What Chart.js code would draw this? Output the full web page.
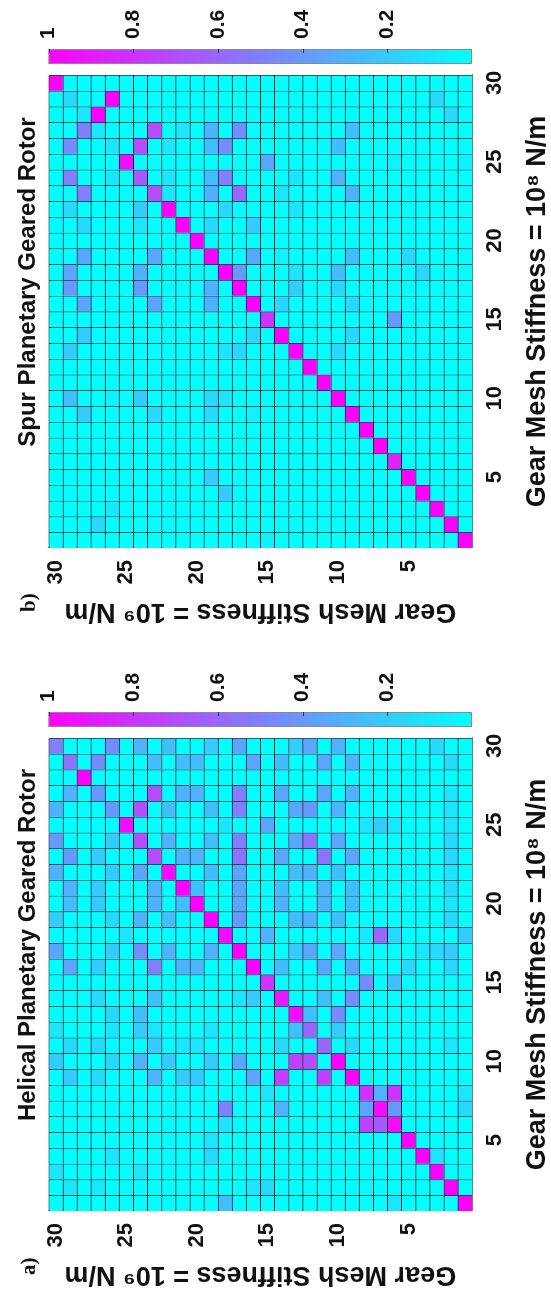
<!DOCTYPE html>
<html>
<head>
<meta charset="utf-8">
<script src="https://cdn.jsdelivr.net/npm/chart.js@4.4.1/dist/chart.umd.min.js"></script>
<style>
html, body { margin: 0; padding: 0; background: #fff; }
body { width: 551px; height: 1290px; overflow: hidden; position: relative; }
/* the figure is laid out landscape and turned a quarter turn counter-clockwise */
#figure { position: absolute; left: 0; top: 0; width: 1290px; height: 551px;
  transform-origin: 0 0; transform: translate(0, 1290px) rotate(-90deg); }
#figure canvas { position: absolute; top: 0; }
#panel_a { left: 0; }
#panel_b { left: 663px; }
</style>
</head>
<body>
<div id="figure">
  <canvas id="panel_a" width="690" height="551"></canvas>
  <canvas id="panel_b" width="690" height="551"></canvas>
</div>
<script>
const modes = [1, 2, 3, 4, 5, 6, 7, 8, 9, 10, 11, 12, 13, 14, 15, 16, 17, 18, 19, 20, 21, 22, 23, 24, 25, 26, 27, 28, 29, 30]
const xTicks = [5, 10, 15, 20, 25, 30]
const yTicks = [5, 10, 15, 20, 25, 30]
const cbTicks = [0.2, 0.4, 0.6, 0.8, 1]

// MAC values. Row k is x = 30 - k (x = 30 first), entry m is y = 30 - m (y = 30 first)
const helical = [
  [.5,0,0,0,.45,0,.3,0,.25,0, 0,.2,0,.35,0,0,0,.2,.35,0, .3,0,0,0,0,0,0,.15,0,0],
  [0,.55,0,.45,0,0,0,.25,0,.25, .25,0,0,0,.35,0,.25,0,0,.35, 0,.3,0,0,0,0,0,0,.15,0],
  [0,0,1,0,0,0,0,0,0,0, 0,0,0,0,0,0,0,0,0,0, 0,0,0,0,0,0,0,0,0,0],
  [0,.3,0,.4,0,0,0,.7,0,.3, .3,0,0,.5,0,0,.35,0,0,.35, 0,.3,0,0,0,0,0,0,.1,0],
  [.3,0,0,0,.4,0,.7,0,.25,0, 0,.25,0,.5,0,0,0,.35,.4,0, .3,0,0,0,0,0,0,0,.1,0],
  [0,0,0,0,0,.95,0,0,0,0, 0,0,.1,0,0,.35,0,0,0,0, 0,0,.1,.2,.1,0,0,0,.1,0],
  [.4,0,0,0,.2,0,.7,0,.3,0, 0,.25,0,.5,0,0,0,.35,.55,0, .35,0,0,0,0,0,0,0,.15,0],
  [0,.4,0,.2,0,0,0,.7,0,.3, .3,0,0,.55,0,0,.35,0,0,.55, 0,.35,0,0,0,0,0,0,.15,0],
  [.3,0,0,0,.2,0,.35,0,.95,0, 0,.25,0,.35,0,0,0,.25,.3,0, .25,0,0,0,0,0,0,0,.1,0],
  [0,.3,0,.2,0,0,0,.3,0,1, .25,0,0,.35,0,0,.25,0,0,.3, 0,.25,0,0,0,0,0,0,.15,0],
  [0,.25,0,.2,0,0,0,.3,0,.25, 1,0,0,.35,0,0,.3,0,0,.3, 0,.25,0,0,0,0,0,0,.1,0],
  [.2,0,0,0,.15,0,.3,0,.25,0, 0,1,0,.4,0,0,0,.25,.3,0, .25,0,0,0,0,0,0,0,.15,0],
  [0,0,0,0,0,.1,0,0,0,0, 0,0,.95,0,0,.3,0,0,0,0, 0,0,.1,.6,.15,0,0,0,0,.2],
  [.35,0,0,0,.2,0,.45,0,.3,0, 0,.3,0,1,0,0,0,.2,.35,0, .35,0,0,0,0,0,.1,.15,.2,0],
  [0,.35,0,.2,0,0,0,.5,0,.3, .3,0,0,0,1,0,.25,0,0,.35, 0,.35,0,0,0,.15,0,0,.15,0],
  [0,0,0,0,0,0,0,0,0,0, 0,0,0,0,0,.8,0,0,0,0, 0,0,.45,0,.25,0,0,0,0,0],
  [0,0,0,.15,0,0,0,.25,0,0, 0,0,0,.1,.2,0,.9,0,0,.25, 0,.45,0,0,0,0,0,0,0,0],
  [0,0,0,0,.15,0,.25,0,0,0, 0,0,0,0,0,0,0,.95,.25,0, .45,0,0,0,0,0,0,0,0,0],
  [.1,0,0,0,.1,0,.2,.1,0,0, 0,.1,0,0,0,0,0,.25,.6,0, .2,0,0,0,0,0,0,0,0,0],
  [0,.15,0,.15,0,0,0,.2,0,.1, .1,0,0,0,0,0,.15,0,0,.6, 0,.15,0,0,0,0,0,0,.1,0],
  [.2,0,0,0,.15,0,.3,0,.2,0, 0,.2,0,.35,0,0,0,.75,.7,0, 1,0,0,0,0,0,0,0,0,0],
  [0,.2,0,.15,0,0,0,.3,0,.2, .2,0,0,0,.35,0,.75,0,0,.75, 0,1,0,0,0,0,0,0,0,0],
  [0,0,0,0,0,0,0,0,0,0, 0,0,0,0,0,.1,0,0,0,0, 0,0,.8,.3,.8,0,0,0,0,.1],
  [0,0,0,0,0,0,0,0,0,0, 0,0,.5,0,0,0,.3,0,0,0, 0,0,.35,.95,.4,0,0,0,0,.15],
  [0,0,0,0,0,0,0,0,0,0, 0,0,.1,0,0,0,0,0,0,0, 0,0,.75,.65,.95,0,0,0,0,0],
  [0,0,0,0,0,0,0,0,0,0, 0,.1,0,0,0,0,0,0,0,0, 0,0,0,0,0,1,0,0,0,0],
  [0,0,0,0,.1,0,0,0,0,0, 0,.15,0,0,0,0,0,0,0,0, 0,0,0,0,0,0,1,.1,0,0],
  [.1,0,0,0,0,0,.1,0,0,0, 0,0,0,0,0,0,0,0,0,0, 0,0,0,0,0,0,0,1,0,0],
  [0,.1,0,.1,0,0,0,0,0,0, 0,0,0,0,.1,.15,0,0,0,0, 0,0,0,0,0,0,0,0,1,0],
  [0,0,0,0,0,0,0,0,0,0, 0,0,.25,0,0,0,0,0,0,0, 0,0,0,0,.1,0,0,0,0,1]
]

const spur = [
  [1,0,0,0,0,0,0,0,0,0, 0,0,0,0,0,0,0,0,0,0, 0,0,0,0,0,0,0,0,0,0],
  [0,.15,0,0,1,0,0,0,0,0, 0,0,0,0,0,0,0,0,0,0, 0,0,0,0,0,0,0,.15,0,0],
  [0,0,.1,1,0,0,0,0,0,0, 0,0,0,0,0,0,0,0,0,0, 0,0,0,0,0,0,0,0,.15,0],
  [0,0,.5,.1,0,0,0,.7,0,.1, 0,.3,0,.45,0,0,0,0,0,0, 0,.25,0,0,0,0,0,0,0,0],
  [0,.45,0,0,.1,0,.7,0,.1,0, 0,.25,.45,0,0,0,0,0,0,0, .25,0,0,0,0,0,0,0,0,0],
  [0,0,0,0,0,.95,0,0,0,0, 0,0,0,0,0,.35,0,0,0,0, 0,0,0,0,.05,0,0,0,0,.05],
  [0,.5,0,0,.1,0,.65,0,.1,0, 0,.25,.5,0,0,0,0,.1,0,0, .3,0,0,0,0,0,0,0,0,0],
  [0,0,.5,0,0,0,0,.7,.1,0, 0,.3,0,.6,0,0,.1,0,0,0, 0,.3,0,0,0,0,0,0,0,0],
  [0,.15,0,0,0,0,.2,0,1,0, 0,0,.15,0,0,0,0,.1,0,0, 0,0,0,0,0,0,0,0,0,0],
  [0,0,.15,0,0,0,.1,0,0,1, 0,.15,0,0,.2,0,0,0,0,0, 0,0,0,0,0,0,0,0,0,0],
  [0,0,0,0,0,0,0,0,0,0, 1,0,0,0,0,0,0,0,0,0, 0,0,0,0,0,0,0,0,0,0],
  [0,0,.35,0,0,0,0,.35,0,0, 0,1,0,0,.35,0,.05,0,0,0, 0,.25,0,0,0,.15,0,0,0,0],
  [0,.35,0,0,0,0,.3,0,0,0, 0,0,1,.4,0,0,0,.1,0,0, .25,0,0,0,0,0,.15,0,0,0],
  [0,.4,0,0,0,0,.4,0,0,0, 0,.3,0,1,0,0,0,.2,0,0, .15,0,0,0,0,0,0,0,0,0],
  [0,0,.35,0,0,0,0,.35,0,0, 0,.3,0,0,1,0,.15,0,0,0, 0,.15,0,0,0,0,0,0,0,0],
  [0,0,0,0,0,0,0,0,0,0, 0,0,0,0,0,.8,0,0,0,0, 0,0,0,0,.4,0,0,0,0,0],
  [0,0,.2,0,0,0,0,0,0,0, 0,0,0,0,.15,0,1,0,0,0, 0,.15,0,0,0,0,0,0,0,0],
  [0,.2,0,0,0,0,0,0,0,0, 0,0,.1,.15,0,0,0,1,0,0, .15,0,0,0,0,0,0,0,0,0],
  [0,0,0,0,0,0,0,0,0,0, 0,0,0,0,0,0,0,0,1,0, 0,0,0,0,0,0,0,0,0,0],
  [0,0,0,0,0,0,0,0,0,0, 0,0,0,0,0,0,0,0,0,1, 0,0,0,0,0,0,0,0,0,0],
  [0,.25,0,0,.05,0,.2,0,0,0, 0,.15,.1,0,0,0,0,0,0,0, 1,0,0,0,0,0,0,0,0,0],
  [0,0,.2,0,0,0,0,.15,0,0, 0,.15,0,0,.05,0,0,0,0,0, 0,1,0,0,0,0,0,0,0,0],
  [0,0,0,0,0,0,0,0,0,0, 0,0,0,0,0,0,0,0,0,0, 0,0,1,0,0,0,0,0,0,0],
  [0,0,0,0,0,0,0,0,0,0, 0,0,0,0,0,0,0,0,0,0, 0,0,0,1,0,0,0,0,0,0],
  [0,0,0,0,0,0,0,0,0,0, 0,0,0,0,0,0,0,0,0,0, 0,0,0,0,.85,0,0,0,0,0],
  [0,0,0,0,0,0,0,0,0,0, 0,.2,0,0,0,0,0,0,0,0, 0,0,0,0,0,1,0,0,0,0],
  [0,0,0,0,0,0,0,0,0,0, 0,0,.2,0,0,0,0,0,0,0, 0,0,0,0,0,0,1,0,0,0],
  [0,0,0,0,.1,0,0,0,0,0, 0,0,0,0,0,0,0,0,0,0, 0,0,0,0,0,0,0,1,0,0],
  [0,0,0,.15,0,0,0,0,0,0, 0,0,0,0,0,0,0,0,0,0, 0,0,0,0,0,0,0,0,1,0],
  [0,0,0,0,0,0,0,0,0,0, 0,0,0,0,0,.05,0,0,0,0, 0,0,0,0,0,0,0,0,0,1]
]

const sans = '"Liberation Sans", Arial, Helvetica, sans-serif'
const ink = '#111'

// MATLAB "cool" colormap: cyan at 0, magenta at 1
function coolColor(v) {
  return `rgb(${Math.round(255 * v)}, ${Math.round(255 * (1 - v))}, 255)`
}

function cellDatasets(matrix) {
  const n = modes.length
  return modes.map(y => ({
    data: modes.map(() => [y - 0.5, y + 0.5]),
    backgroundColor: modes.map(x => coolColor(matrix[n - x][n - y])),
    borderColor: '#1d2626',
    borderWidth: {top: 1, right: 1, bottom: 0, left: 0},
    borderSkipped: false,
    grouped: false,
    barPercentage: 1,
    categoryPercentage: 1
  }))
}

// colorbar drawn in the band of the right-hand "cb" scale, plus the panel tag
const colorbar = {
  id: 'colorbar',
  afterDraw(chart, args, opts) {
    const cb = chart.scales.cb
    const ctx = chart.ctx
    const top = cb.getPixelForValue(1)
    const bottom = cb.getPixelForValue(0)
    const left = cb.left + 11
    const w = 15
    const grad = ctx.createLinearGradient(0, bottom, 0, top)
    grad.addColorStop(0, coolColor(0))
    grad.addColorStop(1, coolColor(1))
    ctx.save()
    ctx.fillStyle = grad
    ctx.fillRect(left, top, w, bottom - top)
    ctx.strokeStyle = '#8a8a8a'
    ctx.lineWidth = 1
    ctx.strokeRect(left + 0.5, top + 0.5, w - 1, bottom - top - 1)
    ctx.strokeStyle = '#333'
    ctx.beginPath()
    cb.ticks.forEach(t => {
      const y = Math.round(cb.getPixelForValue(t.value)) + 0.5
      ctx.moveTo(left + w - 4, y)
      ctx.lineTo(left + w, y)
    })
    ctx.stroke()
    ctx.fillStyle = ink
    ctx.font = 'bold 21px "Liberation Serif", "Times New Roman", serif'
    ctx.textBaseline = 'middle'
    ctx.fillText(opts.tag, 15, 30)
    ctx.restore()
  }
}

function drawPanel(id, matrix, title, tag, xLabel, yLabel) {
  new Chart(document.getElementById(id), {
    type: 'bar',
    data: {labels: modes, datasets: cellDatasets(matrix)},
    options: {
      responsive: false,
      animation: false,
      events: [],
      layout: {padding: 0},
      plugins: {
        legend: {display: false},
        tooltip: {enabled: false},
        title: {
          display: true,
          text: title,
          color: ink,
          font: {family: sans, size: 24, weight: 'bold'},
          padding: {top: 10, bottom: 6.2}
        },
        colorbar: {tag: tag}
      },
      scales: {
        x: {
          type: 'category',
          offset: true,
          grid: {display: false, drawTicks: false},
          border: {display: true, color: '#7a7a7a'},
          ticks: {
            autoSkip: false, maxRotation: 0, padding: 10, color: ink,
            font: {family: sans, size: 22, weight: 'bold'},
            callback: (v, i) => xTicks.includes(modes[i]) ? String(modes[i]) : ''
          },
          title: {
            display: true, text: xLabel, color: ink, padding: 0,
            font: {family: sans, size: 27, weight: 'bold', lineHeight: 1}
          },
          afterFit: s => { s.height = 79 }
        },
        y: {
          type: 'linear',
          min: 0.5,
          max: 30.5,
          grid: {display: false, drawTicks: false},
          border: {display: true, color: '#7a7a7a'},
          afterBuildTicks: s => { s.ticks = yTicks.map(v => ({value: v})) },
          ticks: {padding: 12, color: ink, font: {family: sans, size: 22, weight: 'bold'}},
          title: {
            display: true, text: yLabel, color: ink, padding: {top: 2, bottom: 0},
            font: {family: sans, size: 27, weight: 'bold', lineHeight: 1}
          },
          afterFit: s => { s.width = 79 }
        },
        cb: {
          type: 'linear',
          position: 'right',
          min: 0,
          max: 1,
          grid: {display: false, drawTicks: false},
          border: {display: false},
          afterBuildTicks: s => { s.ticks = cbTicks.map(v => ({value: v})) },
          ticks: {
            padding: 36, color: ink,
            font: {family: sans, size: 21, weight: 'bold'},
            callback: v => String(v)
          },
          afterFit: s => { s.width = 138 }
        }
      }
    },
    plugins: [colorbar]
  })
}

drawPanel('panel_a', helical, 'Helical Planetary Geared Rotor', 'a)',
  'Gear Mesh Stiffness = 10\u2078 N/m', 'Gear Mesh Stiffness = 10\u2079 N/m')
drawPanel('panel_b', spur, 'Spur Planetary Geared Rotor', 'b)',
  'Gear Mesh Stiffness = 10\u2078 N/m', 'Gear Mesh Stiffness = 10\u2079 N/m')
</script>
</body>
</html>
